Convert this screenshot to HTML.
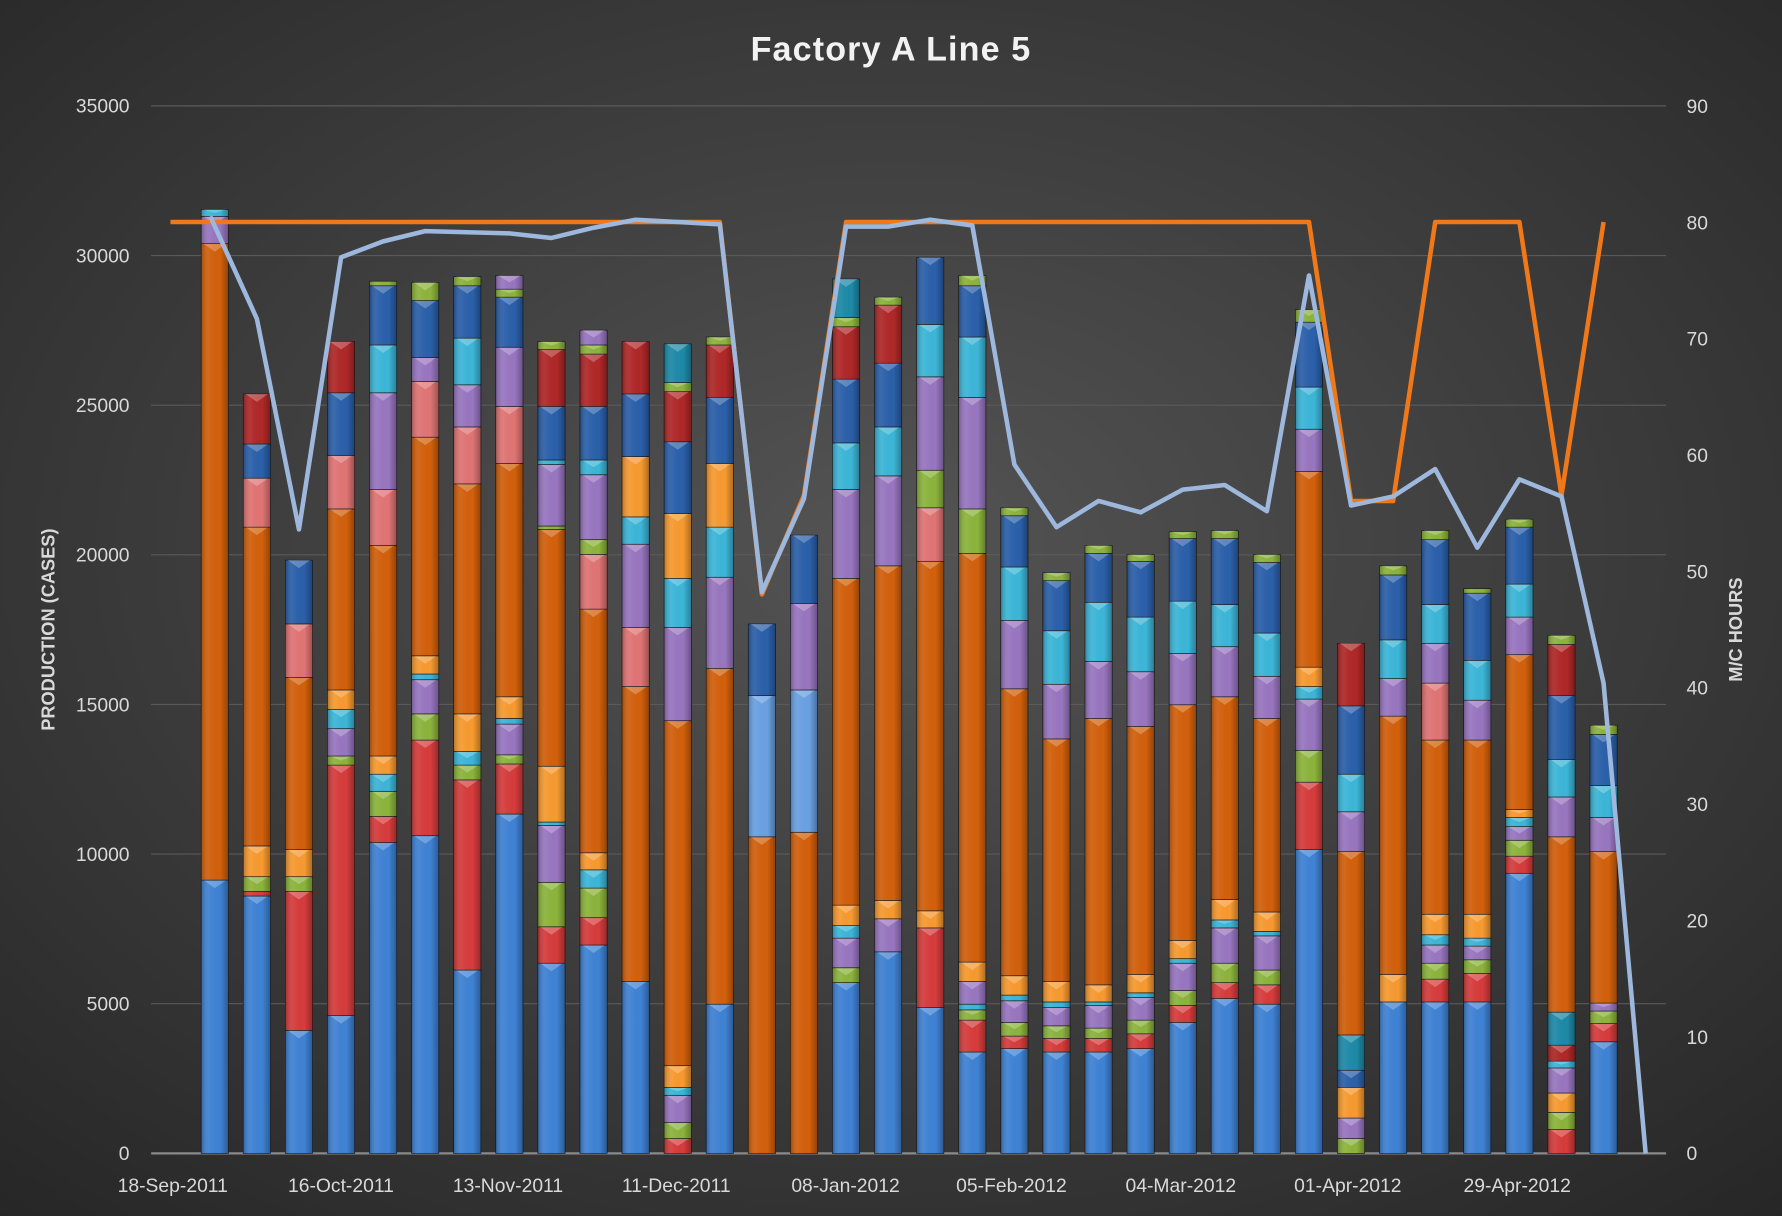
<!DOCTYPE html>
<html><head><meta charset="utf-8"><style>
html,body{margin:0;padding:0;background:#333;}
svg{display:block}
text{font-family:"Liberation Sans",sans-serif;fill:#d9d9d9}
</style></head><body>
<svg id="s" width="1782" height="1216" viewBox="0 0 1568 1068" preserveAspectRatio="none" xmlns="http://www.w3.org/2000/svg">
<defs>
<radialGradient id="bg" cx="50%" cy="45%" r="75%">
<stop offset="0" stop-color="#545454"/><stop offset="1" stop-color="#262626"/></radialGradient>
<linearGradient id="sh" x1="0" x2="1" y1="0" y2="0">
<stop offset="0" stop-color="#000" stop-opacity="0.25"/>
<stop offset="0.3" stop-color="#fff" stop-opacity="0.05"/>
<stop offset="0.7" stop-color="#000" stop-opacity="0"/>
<stop offset="1" stop-color="#000" stop-opacity="0.3"/></linearGradient>
</defs>
<rect width="1568" height="1068" fill="url(#bg)"/>
<text x="784" y="53" text-anchor="middle" font-size="30" font-weight="bold" fill="#f2f2f2" style="fill:#f2f2f2;letter-spacing:1px">Factory A Line 5</text>
<g id="grid"></g>
<g id="bars"></g>
<g id="lines"></g>
<text transform="translate(48,553) rotate(-90)" text-anchor="middle" font-size="16" font-weight="bold">PRODUCTION (CASES)</text>
<text transform="translate(1533,553) rotate(-90)" text-anchor="middle" font-size="16" font-weight="bold">M/C HOURS</text>
</svg>
<script>
const NS="http://www.w3.org/2000/svg";
function el(p,t,a,txt){const e=document.createElementNS(NS,t);for(const k in a)e.setAttribute(k,a[k]);if(txt!=null)e.textContent=txt;document.getElementById(p).appendChild(e);return e;}
for(let i=0;i<=7;i++){const y=1013-i*131.43;
 if(i>0)el('grid','line',{x1:133,x2:1466,y1:y,y2:y,stroke:'#5a5a5a','stroke-width':1});
 el('grid','text',{x:114,y:y+6,'text-anchor':'end','font-size':17},String(i*5000));}
for(let i=0;i<=9;i++){const y=1013-i*102.2;el('grid','text',{x:1484,y:y+6,'font-size':17},String(i*10));}
el('grid','line',{x1:133,x2:1466,y1:1013,y2:1013,stroke:'#8a8a8a','stroke-width':2});
const labs=[[152,'18-Sep-2011'],[300,'16-Oct-2011'],[447,'13-Nov-2011'],[595,'11-Dec-2011'],[744,'08-Jan-2012'],[890,'05-Feb-2012'],[1039,'04-Mar-2012'],[1186,'01-Apr-2012'],[1335,'29-Apr-2012']];
labs.forEach(l=>el('grid','text',{x:l[0],y:1047,'text-anchor':'middle','font-size':17},l[1]));
const C={B:'#3f82d4',O:'#d2600c',R:'#d63c3c',G:'#8cb43c',C:'#3cb6d8',P:'#9876c0',K:'#e07474',D:'#2b60aa',M:'#b02828',Y:'#f79a30',L:'#6aa0e2',T:'#1e8aa8'};
const data=[
"B773 O214 P190 C184","B787 R783 G770 Y743 O463 K420 D390 M346","B905 R783 G770 Y746 O595 K548 D492",
"B892 R672 G664 P640 C623 Y606 O447 K400 D345 M300","B740 R717 G695 C680 Y664 O479 K430 P345 C303 D251 G247",
"B734 R650 G627 P597 C592 Y576 O384 K335 P314 D264 G248","B852 R685 G672 C660 Y627 O425 K375 P338 C297 D251 G243",
"B715 R671 G663 P636 C631 Y612 O407 K357 P305 D261 G254 P242","B846 R814 G775 P725 C722 Y673 O465 G462 P408 C404 D357 M307 G300",
"B830 R806 G780 C764 Y749 O535 K487 G474 P417 C404 D357 M311 G303 P290","B862 O603 K551 P478 C454 Y401 D346 M300",
"R1000 G986 P962 C955 Y936 O633 P551 C508 Y451 D388 M344 G336 T302","B882 O587 P507 C463 Y407 D349 M303 G296",
"O735 L611 D548","O731 L606 P530 D470","B863 G850 P824 C813 Y795 O508 P430 C389 D333 M287 G279 T245",
"B836 P807 Y791 O497 P418 C375 D319 M268 G261","B885 R815 Y800 O493 K446 G413 P331 C285 D226",
"B924 R896 G887 C882 P862 Y845 O486 G447 P349 C296 D251 G242","B921 R910 G898 P879 C874 Y857 O605 P545 C498 D453 G446",
"B924 R912 G901 P885 C880 Y862 O649 P601 C554 D510 G503","B924 R912 G903 P883 C880 Y865 O631 P581 C529 D486 G479",
"B921 R908 G896 P876 C872 Y856 O638 P590 C542 D493 G487","B898 R883 G870 P846 C842 Y826 O619 P574 C528 D473 G467",
"B877 R863 G846 P815 C808 Y790 O612 P568 C531 D473 G466","B882 R865 G852 P822 C818 Y801 O631 P594 C556 D494 G487",
"B746 R687 G659 P614 C603 Y586 O414 P377 C340 D283 G272","G1000 P982 Y955 D940 T909 O748 P713 C680 D620 M565",
"B880 Y856 O629 P596 C562 D505 G497","B880 R860 G846 P830 C821 Y803 O650 K600 P565 C531 D474 G466",
"B880 R855 G843 P831 C824 Y803 O650 P615 C580 D521 G517","B767 R752 G738 P726 C718 Y711 O575 P542 C513 D463 G456",
"R992 G977 Y960 P938 C932 M918 T889 O735 P700 C667 D611 M566 G558","B915 R899 G888 P881 O748 P718 C690 D645 G637"];
data.forEach((d,i)=>{const cx=189+i*37.03,w=24,x=cx-w/2;let prev=1013;
 d.split(' ').forEach(s=>{const c=C[s[0]],y=+s.slice(1);
  el('bars','rect',{x:x,y:y,width:w,height:prev-y,fill:c,stroke:'#1a1a1a','stroke-width':0.6});
  el('bars','rect',{x:x,y:y,width:w,height:prev-y,fill:'url(#sh)'});
  if(prev-y>5)el('bars','polygon',{points:`${x+2},${y} ${x+w-2},${y} ${cx},${y+Math.min(7,(prev-y)/2)}`,fill:'#fff','fill-opacity':0.25});
  prev=y;});
});
const xs=i=>189+i*37.03;
const orange=[[150,195]];for(let i=0;i<=12;i++)orange.push([xs(i),195]);
orange.push([xs(13),522],[xs(14),435]);for(let i=15;i<=26;i++)orange.push([xs(i),195]);
orange.push([xs(27),440],[xs(28),440],[xs(29),195],[xs(30),195],[xs(31),195],[xs(32),435],[xs(33),195]);
el('lines','polyline',{points:orange.map(p=>p.join(',')).join(' '),fill:'none',stroke:'#f07818','stroke-width':4,'stroke-linejoin':'round'});
const by=[190,280,465,226,212,203,204,205,209,200,193,195,197,520,438,199,199,193,198,408,463,440,450,430,426,449,242,444,436,412,481,421,436,600,1013];
const blue=by.map((y,i)=>[i==0?185:xs(i),y]);
el('lines','polyline',{points:blue.map(p=>p.join(',')).join(' '),fill:'none',stroke:'#9db8dc','stroke-width':4,'stroke-linejoin':'round'});
</script>
</body></html>
